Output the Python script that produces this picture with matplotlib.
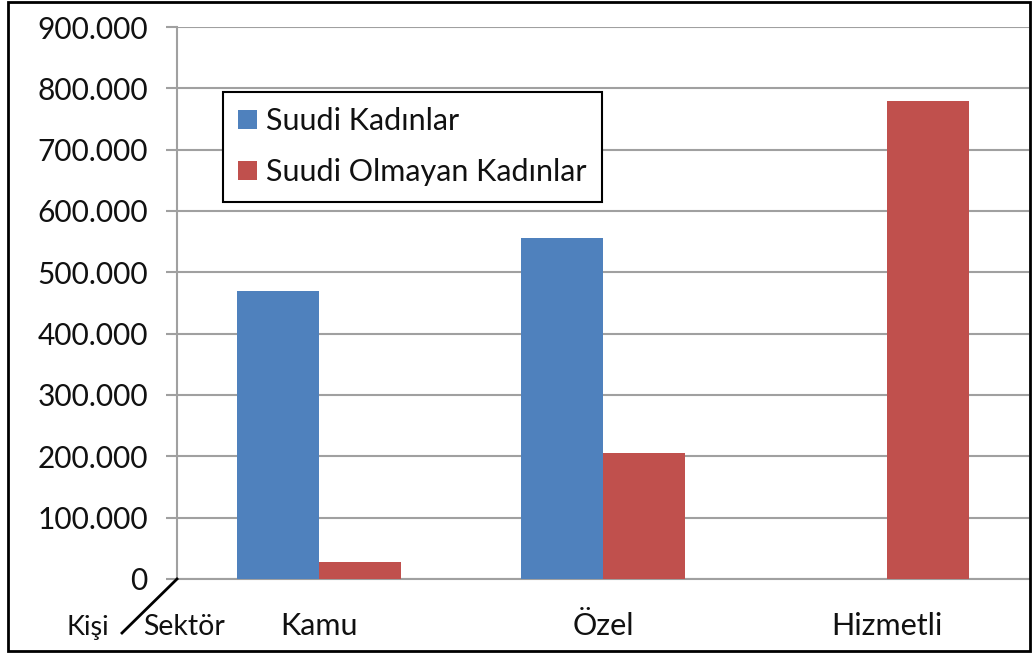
import matplotlib
matplotlib.use("Agg")
import matplotlib.pyplot as plt
from matplotlib.ticker import FuncFormatter, MultipleLocator
from matplotlib.lines import Line2D
from matplotlib.patches import Rectangle
import numpy as np

plt.rcParams["font.family"] = ["Lato", "DejaVu Sans"]

# Veriler
sektorler = ["Kamu", "Özel", "Hizmetli"]
suudi = [470000, 555500, 0]
suudi_olmayan = [27700, 206000, 780000]
seri_adlari = ["Suudi Kadınlar", "Suudi Olmayan Kadınlar"]

mavi = "#4F81BD"
kirmizi = "#C0504D"
gri = "#A0A0A0"
yazi = "#111111"

fig = plt.figure(figsize=(10.33, 6.55), dpi=100)
W, H = 1033, 655
ax = fig.add_axes([177 / W, 1 - 579 / H, 852 / W, 552 / H])

x = np.arange(len(sektorler)) + 0.5
w = 0.287
ax.bar(x - w / 2, suudi, w, color=mavi, label=seri_adlari[0], zorder=3)
ax.bar(x + w / 2, suudi_olmayan, w, color=kirmizi, label=seri_adlari[1], zorder=3)

ax.set_xlim(0, 3)
ax.set_ylim(0, 900000)
ax.yaxis.set_major_locator(MultipleLocator(100000))


def nokta_binlik(v, pos):
    if v == 0:
        return "0"
    return f"{int(v):,}".replace(",", ".")


ax.yaxis.set_major_formatter(FuncFormatter(nokta_binlik))
ax.grid(axis="y", color=gri, linewidth=1.5, zorder=0)
ax.set_axisbelow(True)

for s in ["top", "right"]:
    ax.spines[s].set_visible(False)
ax.spines["left"].set_color(gri)
ax.spines["left"].set_linewidth(1.5)
ax.spines["bottom"].set_color(gri)
ax.spines["bottom"].set_linewidth(1.5)

ax.tick_params(axis="y", length=8, width=1.5, color=gri, labelsize=21.5, pad=13,
               labelcolor=yazi)
ax.set_xticks(x)
ax.set_xticklabels(sektorler, fontsize=22)
ax.tick_params(axis="x", length=0, pad=24, labelcolor=yazi)

leg = ax.legend(loc="upper left", bbox_to_anchor=(0.054, 0.882), fontsize=22,
                frameon=True, fancybox=False, framealpha=1, edgecolor="black",
                handlelength=0.6, handleheight=0.6, handletextpad=0.3,
                labelspacing=0.75, borderpad=0.5, borderaxespad=0)
leg.get_frame().set_linewidth(1.5)
for t in leg.get_texts():
    t.set_color(yazi)

# köşe etiketi: Kişi / Sektör
fig.add_artist(Line2D([122 / W, 177 / W], [1 - 633 / H, 1 - 579 / H],
                      color="black", linewidth=2))
fig.text(109 / W, 1 - 627 / H, "Kişi", ha="right", va="center", fontsize=19.5, color=yazi)
fig.text(143 / W, 1 - 627 / H, "Sektör", ha="left", va="center", fontsize=20.5, color=yazi)

# dış çerçeve
fig.add_artist(Rectangle((8 / W, 1 - 651 / H), 1022 / W, 649 / H, transform=fig.transFigure,
                         fill=False, edgecolor="black", linewidth=2))

plt.savefig("out.png", dpi=100)
plt.close()
